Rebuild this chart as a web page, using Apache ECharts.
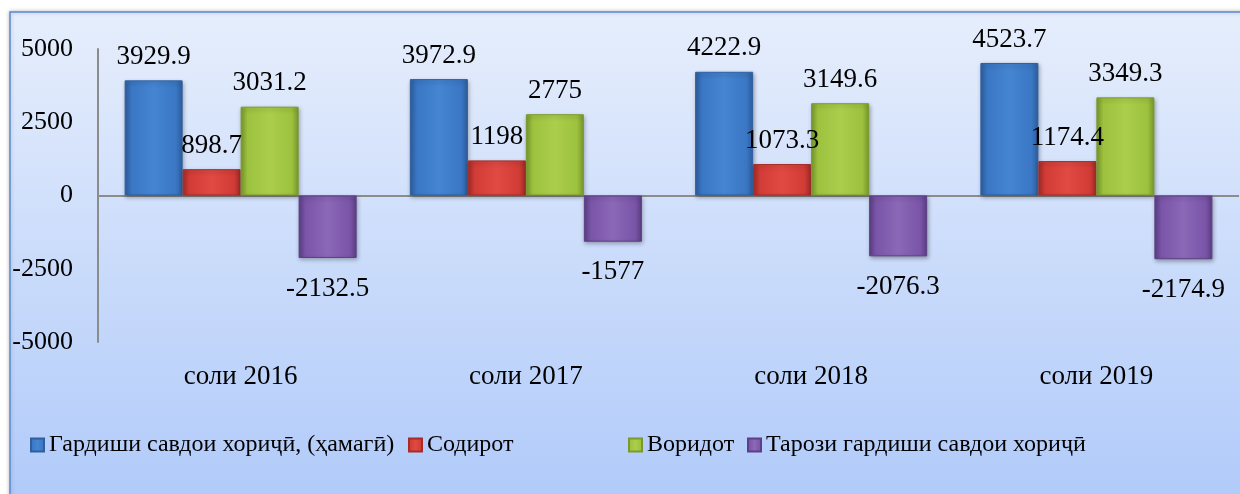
<!DOCTYPE html>
<html>
<head>
<meta charset="utf-8">
<script src="https://cdn.jsdelivr.net/npm/echarts@6/dist/echarts.min.js"></script>
<style>
  html, body { margin: 0; padding: 0; background: #fff; }
  #chart1 { width: 1240px; height: 494px; }
</style>
</head>
<body>
<div id="chart1"></div>
<script>
// соли 2016-2019, млн. доллар
const Data_Years = ['соли 2016', 'соли 2017', 'соли 2018', 'соли 2019'];
const Data_Names = ['Гардиши савдои хориҷӣ, (ҳамагӣ)', 'Содирот', 'Воридот', 'Тарози гардиши савдои хориҷӣ'];
const Data_Total = [3929.9, 3972.9, 4222.9, 4523.7];
const Data_Export = [898.7, 1198, 1073.3, 1174.4];
const Data_Import = [3031.2, 2775, 3149.6, 3349.3];
const Data_Balance = [-2132.5, -1577, -2076.3, -2174.9];
const Y_Min = -5000;
const Y_Max = 5000;
const Y_Step = 2500;

const FONT = 'Liberation Serif';
const LEGEND_LEFT = [30, 408, 628, 747];

function barColor(dark, mid, light) {
  return new echarts.graphic.LinearGradient(0, 0, 1, 0, [
    { offset: 0, color: dark },
    { offset: 0.12, color: mid },
    { offset: 0.5, color: light },
    { offset: 0.88, color: mid },
    { offset: 1, color: dark },
  ]);
}

function makeSeries(name, values, colors) {
  return {
    name: name,
    type: 'bar',
    barWidth: 58,
    barGap: '0%',
    itemStyle: {
      color: barColor(colors[0], colors[1], colors[2]),
      borderColor: colors[0],
      borderWidth: 1,
      shadowColor: 'rgba(0,0,0,0.3)',
      shadowBlur: 4,
      shadowOffsetX: 1,
      shadowOffsetY: 2,
    },
    data: values.map(v => ({
      value: v,
      label: {
        position: v < 0 ? 'bottom' : 'top',
        distance: v < 0 ? 17 : 10,
      },
    })),
    label: {
      show: true,
      color: '#000',
      fontFamily: FONT,
      fontSize: 27,
    },
  };
}

function renderChart1() {
  const dom = document.getElementById('chart1');
  const chart = echarts.init(dom);
  const balance = makeSeries(Data_Names[3], Data_Balance, ['#5d3f86', '#7a55a8', '#8c68b8']);
  balance.markLine = {
    silent: true,
    symbol: 'none',
    label: { show: false },
    lineStyle: { color: '#8c8c8c', width: 2, type: 'solid' },
    data: [{ yAxis: 0 }],
    z: 1,
  };
  const option = {
    animation: false,
    graphic: [
      {
        type: 'rect',
        z: -10,
        shape: { x: 10, y: 12, width: 1300, height: 600 },
        style: {
          fill: new echarts.graphic.LinearGradient(0, 0, 0, 1, [
            { offset: 0, color: '#e6eefc' },
            { offset: 1, color: '#a4c2f9' },
          ]),
          stroke: '#5a8ad0',
          lineWidth: 1.5,
          shadowColor: 'rgba(0,0,0,0.25)',
          shadowBlur: 4,
        },
      },
    ],
    legend: Data_Names.map((n, i) => ({
      left: LEGEND_LEFT[i],
      top: 433,
      padding: 0,
      itemWidth: 13,
      itemHeight: 13,
      icon: 'rect',
      textStyle: { fontFamily: FONT, fontSize: 24, color: '#000' },
      data: [n],
    })),
    grid: {
      left: 98,
      right: 1,
      top: 49,
      bottom: 152,
    },
    xAxis: [
      {
        type: 'category',
        data: Data_Years,
        axisLine: { show: false, onZero: false },
        axisTick: { show: false },
        axisLabel: { color: '#000', fontFamily: FONT, fontSize: 27, margin: 21 },
      }
    ],
    yAxis: [
      {
        type: 'value',
        min: Y_Min,
        max: Y_Max,
        interval: Y_Step,
        axisLine: { show: true, lineStyle: { color: '#8c8c8c', width: 2 } },
        axisTick: { show: false },
        splitLine: { show: false },
        axisLabel: {
          color: '#000', fontFamily: FONT, fontSize: 26, margin: 25,
          formatter: v => String(v),
        },
      }
    ],
    series: [
      makeSeries(Data_Names[0], Data_Total, ['#2f5f9f', '#3a77c4', '#4585d2']),
      makeSeries(Data_Names[1], Data_Export, ['#a52c28', '#d23c36', '#e04a43']),
      makeSeries(Data_Names[2], Data_Import, ['#7a9a2e', '#9cc23e', '#abce4c']),
      balance,
    ]
  };
  chart.setOption(option, true);
}
renderChart1();
</script>
</body>
</html>
